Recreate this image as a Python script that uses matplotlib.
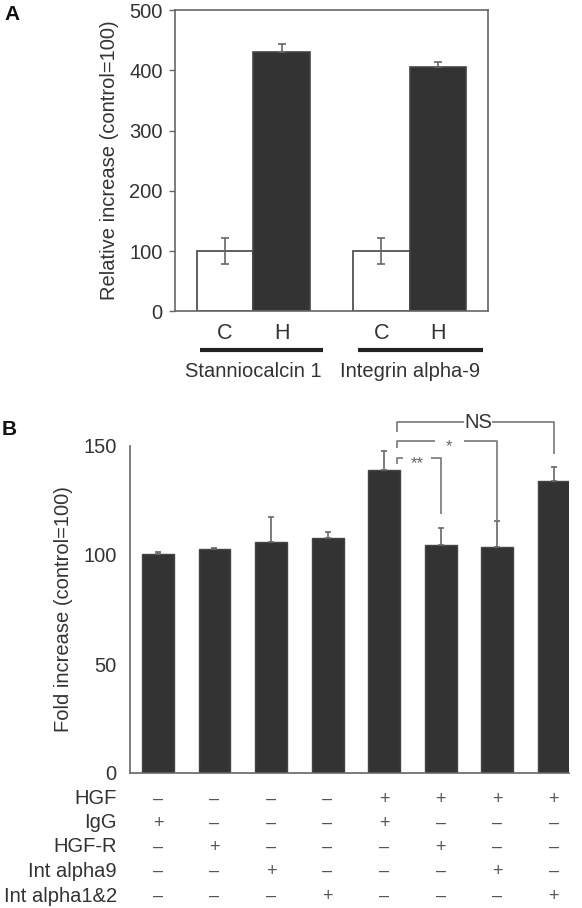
import matplotlib
matplotlib.use("Agg")
import matplotlib.pyplot as plt
import matplotlib.transforms as mtransforms
import numpy as np

plt.rcParams['font.family'] = ['Liberation Sans', 'DejaVu Sans']

# ---- data, panel A
genes = ["Stanniocalcin 1", "Integrin alpha-9"]
cond_labels = ["C", "H"]
control = [100, 100]
control_err = [22, 22]
hgf = [430, 405]
hgf_err = [13, 8]

# ---- data, panel B
fold = [100.3, 102.8, 105.8, 107.7, 139.0, 104.7, 103.7, 134.1]
fold_err = [1.2, 0.3, 11.8, 3.0, 8.8, 7.5, 11.9, 6.1]
row_names = ["HGF", "IgG", "HGF-R", "Int alpha9", "Int alpha1&2"]
signs = [
    "----++++",
    "+---+---",
    "-+---+--",
    "--+---+-",
    "---+---+",
]
# brackets: (left x, right bar, y top, left drop, right end, label)
brackets = [
    (4.22, 5, 144.4, 141.6, 118.7, "**"),
    (4.22, 6, 152.3, 149.0, 116.1, "*"),
    (4.22, 7, 160.9, 156.3, 146.3, "NS"),
]

W, H = 582, 908
dark = '#333333'
gray = '#666666'
txt = '#333333'
fs = 14.5

fig = plt.figure(figsize=(W / 100, H / 100), dpi=100)

# ================= panel A
axA = fig.add_axes([175 / W, 1 - 311.3 / H, 313 / W, 301.3 / H])
posC = np.array([0, 2.757])
posH = posC + 1
axA.bar(posC, control, width=1, color='white', edgecolor='#444444', linewidth=1.2)
axA.bar(posH, hgf, width=1, color=dark, edgecolor='#444444', linewidth=1.2)
axA.errorbar(posC, control, yerr=control_err, fmt='none', ecolor=gray,
             elinewidth=1.2, capsize=3, capthick=1.2)
axA.errorbar(posH, hgf, yerr=[np.zeros(2), hgf_err], fmt='none', ecolor=gray,
             elinewidth=1.2, capsize=3, capthick=1.2)
axA.set_xlim(-0.882, 4.638)
axA.set_ylim(0, 500)
axA.set_yticks([0, 100, 200, 300, 400, 500])
axA.set_xticks([])
axA.tick_params(axis='y', length=4, width=1, color=gray, pad=5,
                labelsize=fs, labelcolor=txt)
for s in axA.spines.values():
    s.set_color(gray)
    s.set_linewidth(1.2)
axA.set_ylabel("Relative increase (control=100)", fontsize=fs, color=txt)
axA.yaxis.set_label_coords(-0.178, 0.5)

for i in range(2):
    axA.text(posC[i], -36.5, cond_labels[0], ha='center', va='center',
             fontsize=fs + 1, color=txt, clip_on=False)
    axA.text(posH[i], -36.5, cond_labels[1], ha='center', va='center',
             fontsize=fs + 1, color=txt, clip_on=False)
    axA.text((posC[i] + posH[i]) / 2, -100, genes[i], ha='center', va='center',
             fontsize=fs, color=txt, clip_on=False)
axA.plot([-0.44, 1.734], [-64, -64], color='#222222', lw=3, solid_capstyle='butt', clip_on=False)
axA.plot([2.351, 4.545], [-64, -64], color='#222222', lw=3, solid_capstyle='butt', clip_on=False)

fig.text(4 / W, 1 - 5 / H, "A", fontsize=15, fontweight='bold', ha='left', va='top', color='#111111')

# ================= panel B
axB = fig.add_axes([130 / W, 1 - 773 / H, 439 / W, 327 / H])
xb = np.arange(len(fold))
axB.bar(xb, fold, width=0.564, color=dark, edgecolor='#444444', linewidth=1)
axB.errorbar(xb, fold, yerr=[np.zeros(len(fold)), fold_err], fmt='none',
             ecolor=gray, elinewidth=1.2, capsize=2.5, capthick=1.2)
axB.set_xlim(-0.494, 7.27)
axB.set_ylim(0, 150)
axB.set_yticks([0, 50, 100, 150])
axB.set_xticks([])
axB.tick_params(axis='y', length=0, pad=9.5, labelsize=fs, labelcolor=txt)
for side in ['top', 'right']:
    axB.spines[side].set_visible(False)
for side in ['left', 'bottom']:
    axB.spines[side].set_color(gray)
    axB.spines[side].set_linewidth(1.2)
axB.set_ylabel("Fold increase (control=100)", fontsize=fs, color=txt)
axB.yaxis.set_label_coords(-0.13, 0.5)

# significance brackets
gaps = {"**": (4.34, 4.83), "*": (4.90, 5.41), "NS": (5.41, 5.908)}
lc = '#777777'
for xl, xr, ytop, yl, yr, lab in brackets:
    g0, g1 = gaps[lab]
    kw = dict(color=lc, lw=1.2, clip_on=False, solid_capstyle='butt')
    axB.plot([xl, xl, g0], [yl, ytop, ytop], **kw)
    axB.plot([g1, xr, xr], [ytop, ytop, yr], **kw)
    if lab == "NS":
        axB.text((g0 + g1) / 2, ytop, lab, ha='center', va='center',
                 fontsize=fs, color=txt, clip_on=False)
    else:
        axB.text((g0 + g1) / 2, ytop - 2.5, lab, ha='center', va='center',
                 fontsize=12, color=gray, clip_on=False)

# treatment table below panel B
trans = mtransforms.blended_transform_factory(axB.transData, fig.transFigure)
row_y = [799, 823, 847, 871.5, 896.5]
for r, name in enumerate(row_names):
    yf = 1 - row_y[r] / H
    axB.text(-0.723, yf, name, transform=trans, ha='right', va='center',
             fontsize=fs, color=txt, clip_on=False)
    for i, c in enumerate(signs[r]):
        mark = "+" if c == "+" else "\u2013"
        axB.text(xb[i], yf, mark, transform=trans, ha='center', va='center',
                 fontsize=13, color='#555555', clip_on=False)

fig.text(2 / W, 1 - 420 / H, "B", fontsize=15, fontweight='bold', ha='left', va='top', color='#111111')

fig.savefig("out.png", dpi=100)
